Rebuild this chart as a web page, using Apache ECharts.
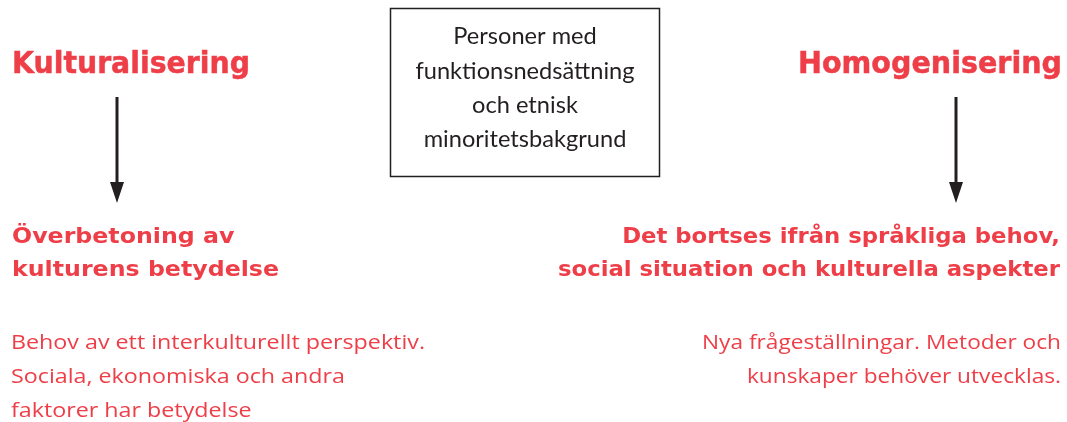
<!DOCTYPE html>
<html><head><meta charset="utf-8">
<script src="https://cdn.jsdelivr.net/npm/echarts@6/dist/echarts.min.js"></script>
<style>html,body{margin:0;padding:0;background:#fff}#c{width:1067px;height:422px}</style>
</head><body><div id="c"></div>
<script>
const headings = ['Kulturalisering', 'Homogenisering'];
const centerLines = ['Personer med', 'funktionsnedsättning', 'och etnisk', 'minoritetsbakgrund'];
const leftBold = ['Överbetoning av', 'kulturens betydelse'];
const rightBold = ['Det bortses ifrån språkliga behov,', 'social situation och kulturella aspekter'];
const leftBody = ['Behov av ett interkulturellt perspektiv.', 'Sociala, ekonomiska och andra', 'faktorer har betydelse'];
const rightBody = ['Nya frågeställningar. Metoder och', 'kunskaper behöver utvecklas.'];

const RED = '#ee3e48', DARK = '#231f20';
const BOLDFONT = '"DejaVu Sans", Lato, sans-serif';
const REGFONT = '"Open Sans", Lato, sans-serif';
const BOXFONT = 'Lato, "Open Sans", sans-serif';
const cv = document.createElement('canvas').getContext('2d');
function measure(s, size, weight, fam) { cv.font = weight + ' ' + size + 'px ' + fam; return cv.measureText(s).width; }

const chart = echarts.init(document.getElementById('c'), null, {renderer: 'canvas'});
const g = [];
// block: lines, anchor x, first line center y, line step, align, size, weight, font, color, target width of widest line, extra stroke
function block(lines, x, y0, step, align, size, weight, fam, color, target, strokeW) {
  const w = Math.max.apply(null, lines.map(s => measure(s, size, weight, fam)));
  const sx = target / w;
  lines.forEach((s, i) => {
    const st = {text: s, textAlign: align, textVerticalAlign: 'middle', fontSize: size,
      fontWeight: weight, fill: color, fontFamily: fam};
    if (strokeW) { st.stroke = color; st.lineWidth = strokeW; }
    g.push({type: 'text', x: x, y: y0 + i * step, scaleX: sx, style: st});
  });
}
block([headings[0]], 12, 65, 0, 'left', 30, 'bold', BOLDFONT, RED, 238, 0.5);
block([headings[1]], 1062, 65, 0, 'right', 30, 'bold', BOLDFONT, RED, 264, 0.5);
g.push({type: 'rect', shape: {x: 390.5, y: 8.5, width: 269, height: 168}, style: {fill: '#fff', stroke: DARK, lineWidth: 1.5}});
block(centerLines, 525, 37, 34.3, 'center', 23, 'normal', BOXFONT, DARK, 219);
[117, 956].forEach(x => {
  g.push({type: 'line', shape: {x1: x, y1: 97, x2: x, y2: 186}, style: {stroke: DARK, lineWidth: 3}});
  g.push({type: 'polygon', shape: {points: [[x - 7, 182], [x + 7, 182], [x, 203]]}, style: {fill: DARK}});
});
block(leftBold, 12, 238, 33, 'left', 21, 'bold', BOLDFONT, RED, 267);
block(rightBold, 1060, 238, 33, 'right', 21, 'bold', BOLDFONT, RED, 502);
block(leftBody, 11, 343, 34, 'left', 20, 'normal', REGFONT, RED, 414);
block(rightBody, 1061, 343, 34, 'right', 20, 'normal', REGFONT, RED, 359);
chart.setOption({backgroundColor: '#fff', graphic: g});
</script></body></html>
